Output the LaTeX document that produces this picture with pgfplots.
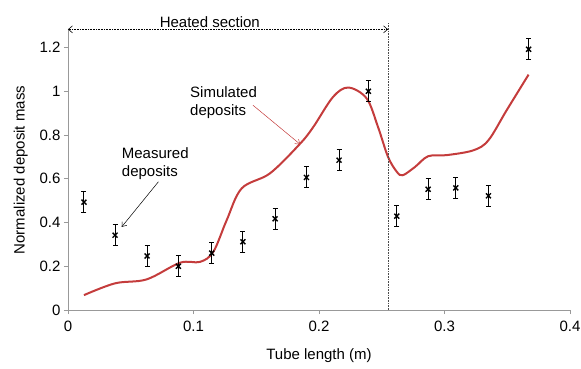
\documentclass[border=0pt]{standalone}
\usepackage{pgfplots}
\pgfplotsset{compat=1.18}
\usepackage{fontspec}
\setmainfont{Liberation Sans}
\usetikzlibrary{arrows.meta}

\definecolor{simred}{RGB}{196,60,60}

\begin{document}
\begin{tikzpicture}[font=\fontsize{15}{18}\selectfont]
\useasboundingbox (-68pt,-58pt) rectangle (513pt,310pt);
\begin{axis}[
    scale only axis,
    width=502pt, height=280pt,
    xmin=0, xmax=0.4, ymin=0, ymax=1.28,
    axis x line*=bottom, axis y line*=left,
    axis line style={gray!80, line width=0.8pt},
    tick style={gray!80, line width=0.8pt},
    tick align=outside, major tick length=4pt,
    xtick={0,0.1,0.2,0.3,0.4},
    ytick={0,0.2,0.4,0.6,0.8,1,1.2},
    /pgf/number format/assume math mode=true,
    xticklabel style={yshift=-3pt},
    xlabel={Tube length (m)},
    ylabel={Normalized deposit mass},
    xlabel style={yshift=-11pt},
    ylabel style={yshift=5pt},
    clip=false,
]
% simulated deposits
\addplot[simred, line width=2pt, smooth, tension=0.55] coordinates {
  (0.0127,0.068) (0.0375,0.122) (0.0627,0.140) (0.0892,0.216)
  (0.1052,0.220) (0.1158,0.266) (0.1264,0.410) (0.1384,0.556)
  (0.1610,0.625) (0.1849,0.760) (0.1955,0.837) (0.2112,0.974)
  (0.2234,1.017) (0.2380,0.967) (0.2470,0.837) (0.2550,0.700)
  (0.2620,0.632) (0.2667,0.616) (0.2765,0.654) (0.2870,0.703)
  (0.3017,0.708) (0.3230,0.730) (0.3350,0.776) (0.3495,0.913)
  (0.3670,1.076)
};
% measured deposits
\addplot[black, only marks, mark=x, mark size=3.5pt, line width=1.4pt,
  error bars/.cd, y dir=both, y explicit,
  error bar style={black, line width=1pt},
  error mark options={rotate=90, mark size=2.5pt, line width=1pt}]
  coordinates {
  (0.0127,0.493) +- (0,0.048)
  (0.0375,0.342) +- (0,0.048)
  (0.0630,0.247) +- (0,0.048)
  (0.0880,0.200) +- (0,0.048)
  (0.1145,0.260) +- (0,0.048)
  (0.1394,0.312) +- (0,0.048)
  (0.1650,0.417) +- (0,0.048)
  (0.1900,0.606) +- (0,0.048)
  (0.2160,0.685) +- (0,0.048)
  (0.2393,1.000) +- (0,0.048)
  (0.2620,0.429) +- (0,0.048)
  (0.2870,0.552) +- (0,0.048)
  (0.3090,0.558) +- (0,0.048)
  (0.3350,0.522) +- (0,0.048)
  (0.3670,1.192) +- (0,0.048)
};
% heated section
\draw[densely dotted, gray!60!black, line width=0.6pt] (axis cs:0.255,0) -- (axis cs:0.255,1.315);
\draw[densely dotted, line width=0.6pt, {Straight Barb[length=4pt,width=7pt]}-{Straight Barb[length=4pt,width=7pt]}]
  (axis cs:0,1.283) -- (axis cs:0.255,1.283);
\node[above, inner sep=2pt] at (axis cs:0.113,1.283) {Heated section};
% annotations
\node[anchor=north west, align=left, inner sep=0pt] at (axis cs:0.0972,1.020) {Simulated\\deposits};
\draw[simred, line width=0.5pt, -{Straight Barb[length=4pt,width=6pt]}]
  (axis cs:0.1474,0.936) -- (axis cs:0.1849,0.758);
\node[anchor=north west, align=left, inner sep=0pt] at (axis cs:0.0428,0.745) {Measured\\deposits};
\draw[black, line width=0.5pt, -{Straight Barb[length=4pt,width=6pt]}]
  (axis cs:0.0720,0.586) -- (axis cs:0.0428,0.380);
\end{axis}
\end{tikzpicture}
\end{document}
